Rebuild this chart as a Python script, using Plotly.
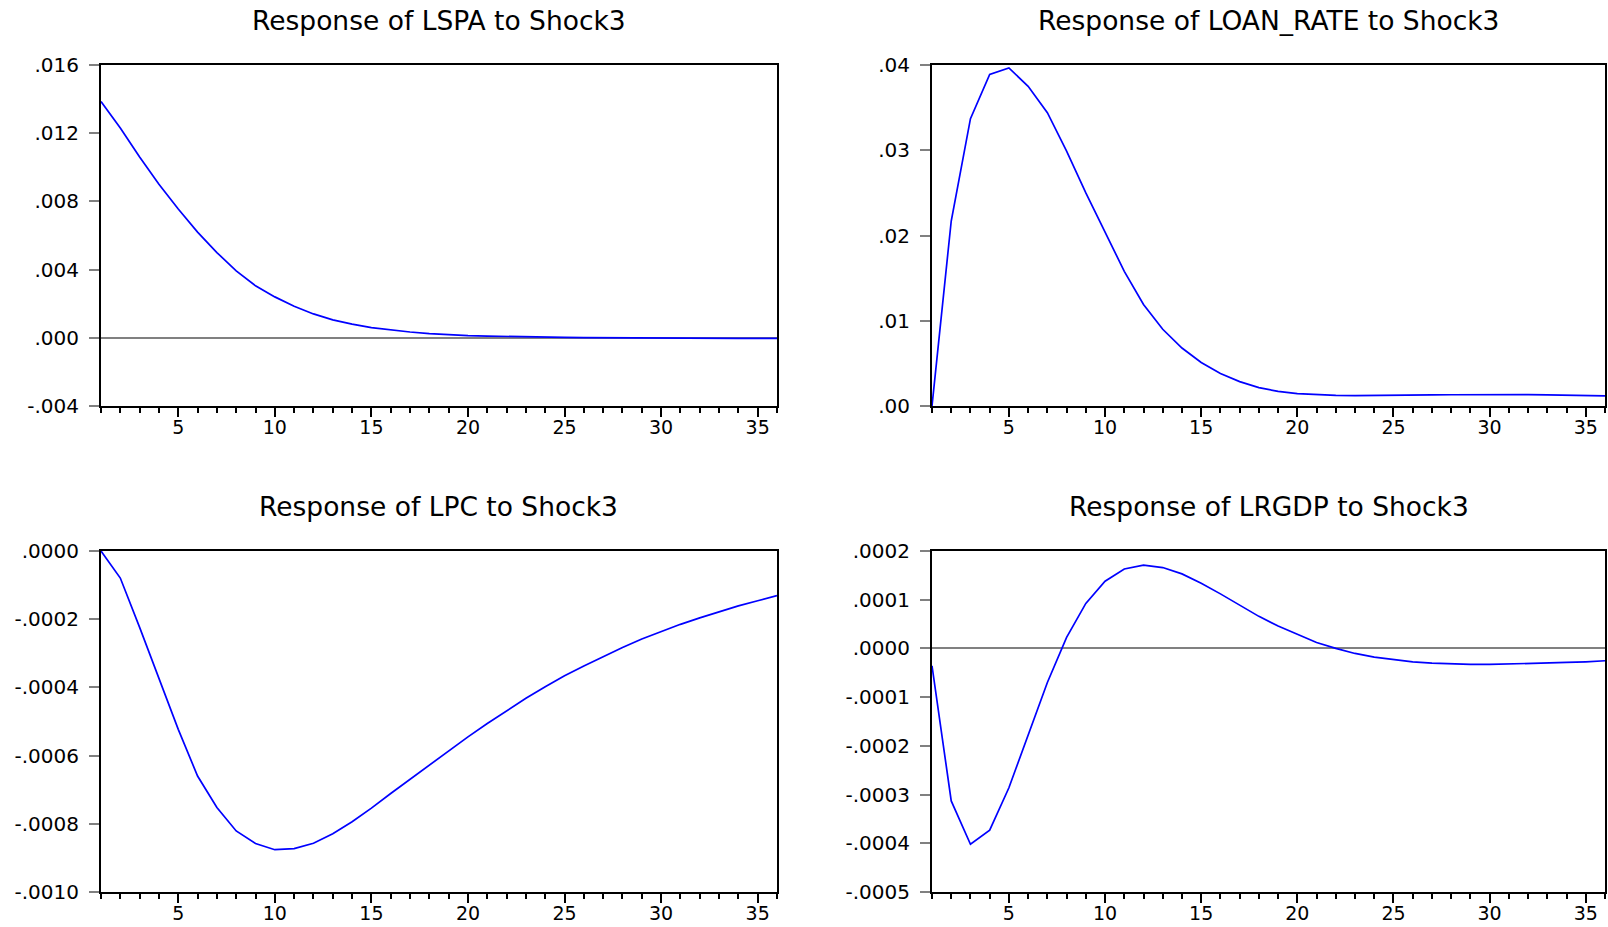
import plotly.graph_objects as go

# ---------------- data ----------------
periods = list(range(1, 37))

lspa = [0.01386, 0.01230, 0.01060, 0.00900, 0.00755, 0.00620, 0.00500, 0.00392,
        0.00305, 0.00240, 0.00185, 0.00140, 0.00105, 0.00080, 0.00060, 0.00045,
        0.00034, 0.00025, 0.00018, 0.00013, 0.00010, 0.00007, 0.00005, 0.00003,
        0.00002, 0.00001, 0.00000, -0.00001, -0.00001, -0.00002, -0.00002,
        -0.00002, -0.00003, -0.00003, -0.00003, -0.00003]

loan_rate = [0.0000, 0.0217, 0.0337, 0.0389, 0.03965, 0.0375, 0.0344, 0.0299,
             0.0250, 0.0203, 0.0158, 0.0119, 0.0090, 0.0068, 0.0051, 0.0038,
             0.00286, 0.00215, 0.00172, 0.00145, 0.00132, 0.00125, 0.00122,
             0.00122, 0.00125, 0.00128, 0.00130, 0.00132, 0.00134, 0.00135,
             0.00134, 0.00133, 0.00131, 0.00127, 0.00123, 0.00118]

lpc = [0.0, -0.0000793, -0.000224, -0.000371, -0.000523, -0.000660, -0.000752,
       -0.000821, -0.000858, -0.000876, -0.000873, -0.000857, -0.000829,
       -0.000794, -0.000754, -0.000711, -0.000669, -0.000627, -0.000586,
       -0.000545, -0.000506, -0.000469, -0.000432, -0.000398, -0.000366,
       -0.000337, -0.000309, -0.000283, -0.000258, -0.000236, -0.000215,
       -0.000196, -0.000178, -0.000161, -0.000146, -0.000131]

lrgdp = [-0.0000356, -0.000313, -0.000402, -0.000373, -0.000286, -0.000176,
         -0.0000699, 0.0000226, 0.0000925, 0.000138, 0.000163, 0.000171,
         0.000166, 0.000153, 0.000134, 0.000112, 0.0000897, 0.0000658,
         0.0000459, 0.0000288, 0.0000123, 0.0, -0.0000103, -0.0000178,
         -0.0000233, -0.0000274, -0.0000301, -0.0000322, -0.0000329,
         -0.0000329, -0.0000322, -0.0000315, -0.0000301, -0.0000288,
         -0.0000274, -0.0000253]

titles = ["Response of LSPA to Shock3", "Response of LOAN_RATE to Shock3",
          "Response of LPC to Shock3", "Response of LRGDP to Shock3"]

x_tickvals = [5, 10, 15, 20, 25, 30, 35]
x_ticktext = ["5", "10", "15", "20", "25", "30", "35"]

lspa_tickvals = [-0.004, 0.0, 0.004, 0.008, 0.012, 0.016]
lspa_ticktext = ["-.004", ".000", ".004", ".008", ".012", ".016"]

loan_tickvals = [0.0, 0.01, 0.02, 0.03, 0.04]
loan_ticktext = [".00", ".01", ".02", ".03", ".04"]

lpc_tickvals = [-0.0010, -0.0008, -0.0006, -0.0004, -0.0002, 0.0]
lpc_ticktext = ["-.0010", "-.0008", "-.0006", "-.0004", "-.0002", ".0000"]

lrgdp_tickvals = [-0.0005, -0.0004, -0.0003, -0.0002, -0.0001, 0.0, 0.0001, 0.0002]
lrgdp_ticktext = ["-.0005", "-.0004", "-.0003", "-.0002", "-.0001", ".0000", ".0001", ".0002"]

# ---------------- layout geometry ----------------
W, H = 1608, 927
FONT = "DejaVu Sans"


def dom_x(a, b):
    return [a / W, b / W]


def dom_y(top, bottom):
    return [1 - bottom / H, 1 - top / H]


panels = [
    dict(series=lspa, xd=dom_x(101, 777), yd=dom_y(65, 406), yr=[-0.004, 0.016],
         tv=lspa_tickvals, tt=lspa_ticktext, zero=True, ty=20),
    dict(series=loan_rate, xd=dom_x(932, 1605), yd=dom_y(65, 406), yr=[0.0, 0.04],
         tv=loan_tickvals, tt=loan_ticktext, zero=False, ty=20),
    dict(series=lpc, xd=dom_x(101, 777), yd=dom_y(551, 892), yr=[-0.0010, 0.0],
         tv=lpc_tickvals, tt=lpc_ticktext, zero=False, ty=506),
    dict(series=lrgdp, xd=dom_x(932, 1605), yd=dom_y(551, 892), yr=[-0.0005, 0.0002],
         tv=lrgdp_tickvals, tt=lrgdp_ticktext, zero=True, ty=506),
]

fig = go.Figure()
layout = dict(
    width=W, height=H,
    margin=dict(l=0, r=0, t=0, b=0, pad=0, autoexpand=False),
    paper_bgcolor="white", plot_bgcolor="white",
    showlegend=False,
    font=dict(family=FONT, color="black", size=20),
    annotations=[],
)

for i, p in enumerate(panels):
    n = "" if i == 0 else str(i + 1)
    fig.add_trace(go.Scatter(
        x=periods, y=p["series"], mode="lines",
        line=dict(color="#0000ff", width=1.7),
        xaxis="x" + n, yaxis="y" + n, hoverinfo="skip",
    ))
    layout["xaxis" + n] = dict(
        domain=p["xd"], anchor="y" + n, range=[1, 36],
        tickmode="array", tickvals=x_tickvals, ticktext=x_ticktext,
        ticks="outside", ticklen=9, tickwidth=1.5, tickcolor="black",
        minor=dict(tickmode="array", tickvals=periods, ticks="outside",
                   ticklen=5, tickwidth=1.5, tickcolor="black"),
        showline=True, linecolor="black", linewidth=2, mirror=True,
        showgrid=False, zeroline=False, automargin=False,
        ticklabelstandoff=-6,
        tickfont=dict(family=FONT, size=19, color="black"),
        fixedrange=True,
    )
    layout["yaxis" + n] = dict(
        domain=p["yd"], anchor="x" + n, range=p["yr"],
        tickmode="array", tickvals=p["tv"], ticktext=p["tt"],
        ticks="outside", ticklen=10, tickwidth=1.5, tickcolor="#808080",
        showline=True, linecolor="black", linewidth=2, mirror=True,
        showgrid=False, automargin=False,
        zeroline=p["zero"], zerolinecolor="#808080", zerolinewidth=1.5,
        ticklabelstandoff=6,
        tickfont=dict(family=FONT, size=20, color="black"),
        fixedrange=True,
    )
    layout["annotations"].append(dict(
        text=titles[i], xref="paper", yref="paper",
        x=(p["xd"][0] + p["xd"][1]) / 2, y=1 - p["ty"] / H,
        xanchor="center", yanchor="middle", showarrow=False,
        font=dict(family=FONT, size=26.5, color="black"),
    ))

fig.update_layout(**layout)

fig.write_html("out.html", config={"displayModeBar": False},
               post_script="document.body.style.margin='0';document.body.style.overflow='hidden';")
